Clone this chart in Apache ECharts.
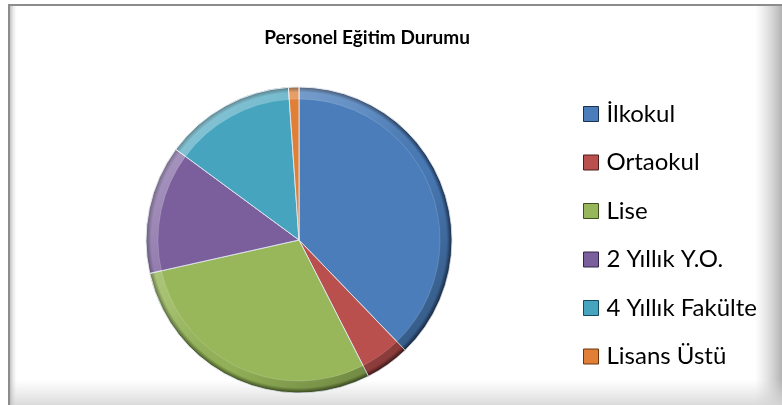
<!DOCTYPE html>
<html><head><meta charset="utf-8">
<script src="https://cdn.jsdelivr.net/npm/echarts@6/dist/echarts.min.js"></script>
<style>html,body{margin:0;padding:0;background:#fff}#c{width:782px;height:405px}</style>
</head><body><div id="c"></div>
<script>
const titleText = 'Personel Eğitim Durumu';
const categories = ['İlkokul', 'Ortaokul', 'Lise', '2 Yıllık Y.O.', '4 Yıllık Fakülte', 'Lisans Üstü'];
const values = [37.8, 4.7, 29.0, 13.6, 13.8, 1.1];
const baseColors = ['#4A7DBA', '#B9504D', '#97B75A', '#7B5F9D', '#46A4BE', '#E07F35'];
const darkColors = ['#1c3050', '#4d1c1b', '#3e5020', '#33264a', '#174a58', '#6a3510'];

const CX = 299, CY = 240, R = 153;

function mainFill(i) {
  return { type: 'radial', x: CX, y: CY, r: R, global: true, colorStops: [
    { offset: 0, color: baseColors[i] }, { offset: 0.9, color: baseColors[i] },
    { offset: 0.965, color: baseColors[i] }, { offset: 1, color: darkColors[i] }] };
}
const rimFill = { type: 'linear', x: CX - R, y: CY - R, x2: CX + R, y2: CY + R, global: true, colorStops: [
  { offset: 0, color: 'rgba(255,255,255,0.45)' }, { offset: 0.4, color: 'rgba(255,255,255,0.12)' },
  { offset: 0.6, color: 'rgba(0,0,0,0.04)' }, { offset: 1, color: 'rgba(0,0,0,0.4)' }] };

const chart = echarts.init(document.getElementById('c'), null, { renderer: 'canvas' });
chart.setOption({
  animation: false,
  backgroundColor: '#ffffff',
  graphic: [
    { type: 'rect', z: -10, shape: { x: 755, y: 4, width: 27, height: 401 }, style: { fill: { type: 'linear', x: 0, y: 0, x2: 1, y2: 0, colorStops: [{ offset: 0, color: 'rgba(200,200,200,0)' }, { offset: 1, color: 'rgba(170,170,170,0.9)' }] } } },
    { type: 'rect', z: -10, shape: { x: 10, y: 380, width: 772, height: 25 }, style: { fill: { type: 'linear', x: 0, y: 0, x2: 0, y2: 1, colorStops: [{ offset: 0, color: 'rgba(220,220,220,0)' }, { offset: 1, color: 'rgba(215,215,215,0.9)' }] } } },
    { type: 'rect', z: -10, shape: { x: 10, y: 6, width: 7, height: 399 }, style: { fill: { type: 'linear', x: 0, y: 0, x2: 1, y2: 0, colorStops: [{ offset: 0, color: 'rgba(180,180,180,0.8)' }, { offset: 1, color: 'rgba(230,230,230,0)' }] } } },
    { type: 'rect', z: -5, shape: { x: 8, y: 4, width: 774, height: 2 }, style: { fill: '#8c8c8c' } },
    { type: 'rect', z: -5, shape: { x: 8, y: 4, width: 2, height: 401 }, style: { fill: '#8c8c8c' } }
  ],
  title: {
    text: titleText, left: 367, top: 28, textAlign: 'center', padding: 0,
    textStyle: { fontFamily: 'Lato', fontWeight: 'bold', fontSize: 19, color: '#000' }
  },
  legend: {
    orient: 'vertical', left: 583, top: 102, padding: 0,
    icon: 'rect', itemWidth: 15, itemHeight: 15, itemGap: 24.5,
    textStyle: { fontFamily: 'Lato', fontSize: 24, lineHeight: 24, color: '#000', padding: [0, 0, 0, 3] },
    data: categories.map((n, i) => ({ name: n, itemStyle: { color: baseColors[i], borderColor: darkColors[i], borderWidth: 1 } }))
  },
  series: [
    {
      type: 'pie', center: [CX, CY], radius: [0, R], startAngle: 90, clockwise: true,
      label: { show: false }, labelLine: { show: false }, emphasis: { disabled: true },
      itemStyle: { borderColor: 'rgba(225,232,240,0.9)', borderWidth: 1 },
      data: categories.map((n, i) => ({ name: n, value: values[i], itemStyle: { color: mainFill(i) } }))
    },
    {
      type: 'pie', center: [CX, CY], radius: [141, R], startAngle: 90, clockwise: true, silent: true,
      label: { show: false }, labelLine: { show: false }, emphasis: { disabled: true }, legendHoverLink: false,
      itemStyle: { borderColor: 'rgba(255,255,255,0.3)', borderWidth: 0.5, color: rimFill },
      data: categories.map((n, i) => ({ name: n, value: values[i] }))
    }
  ]
});
</script></body></html>
